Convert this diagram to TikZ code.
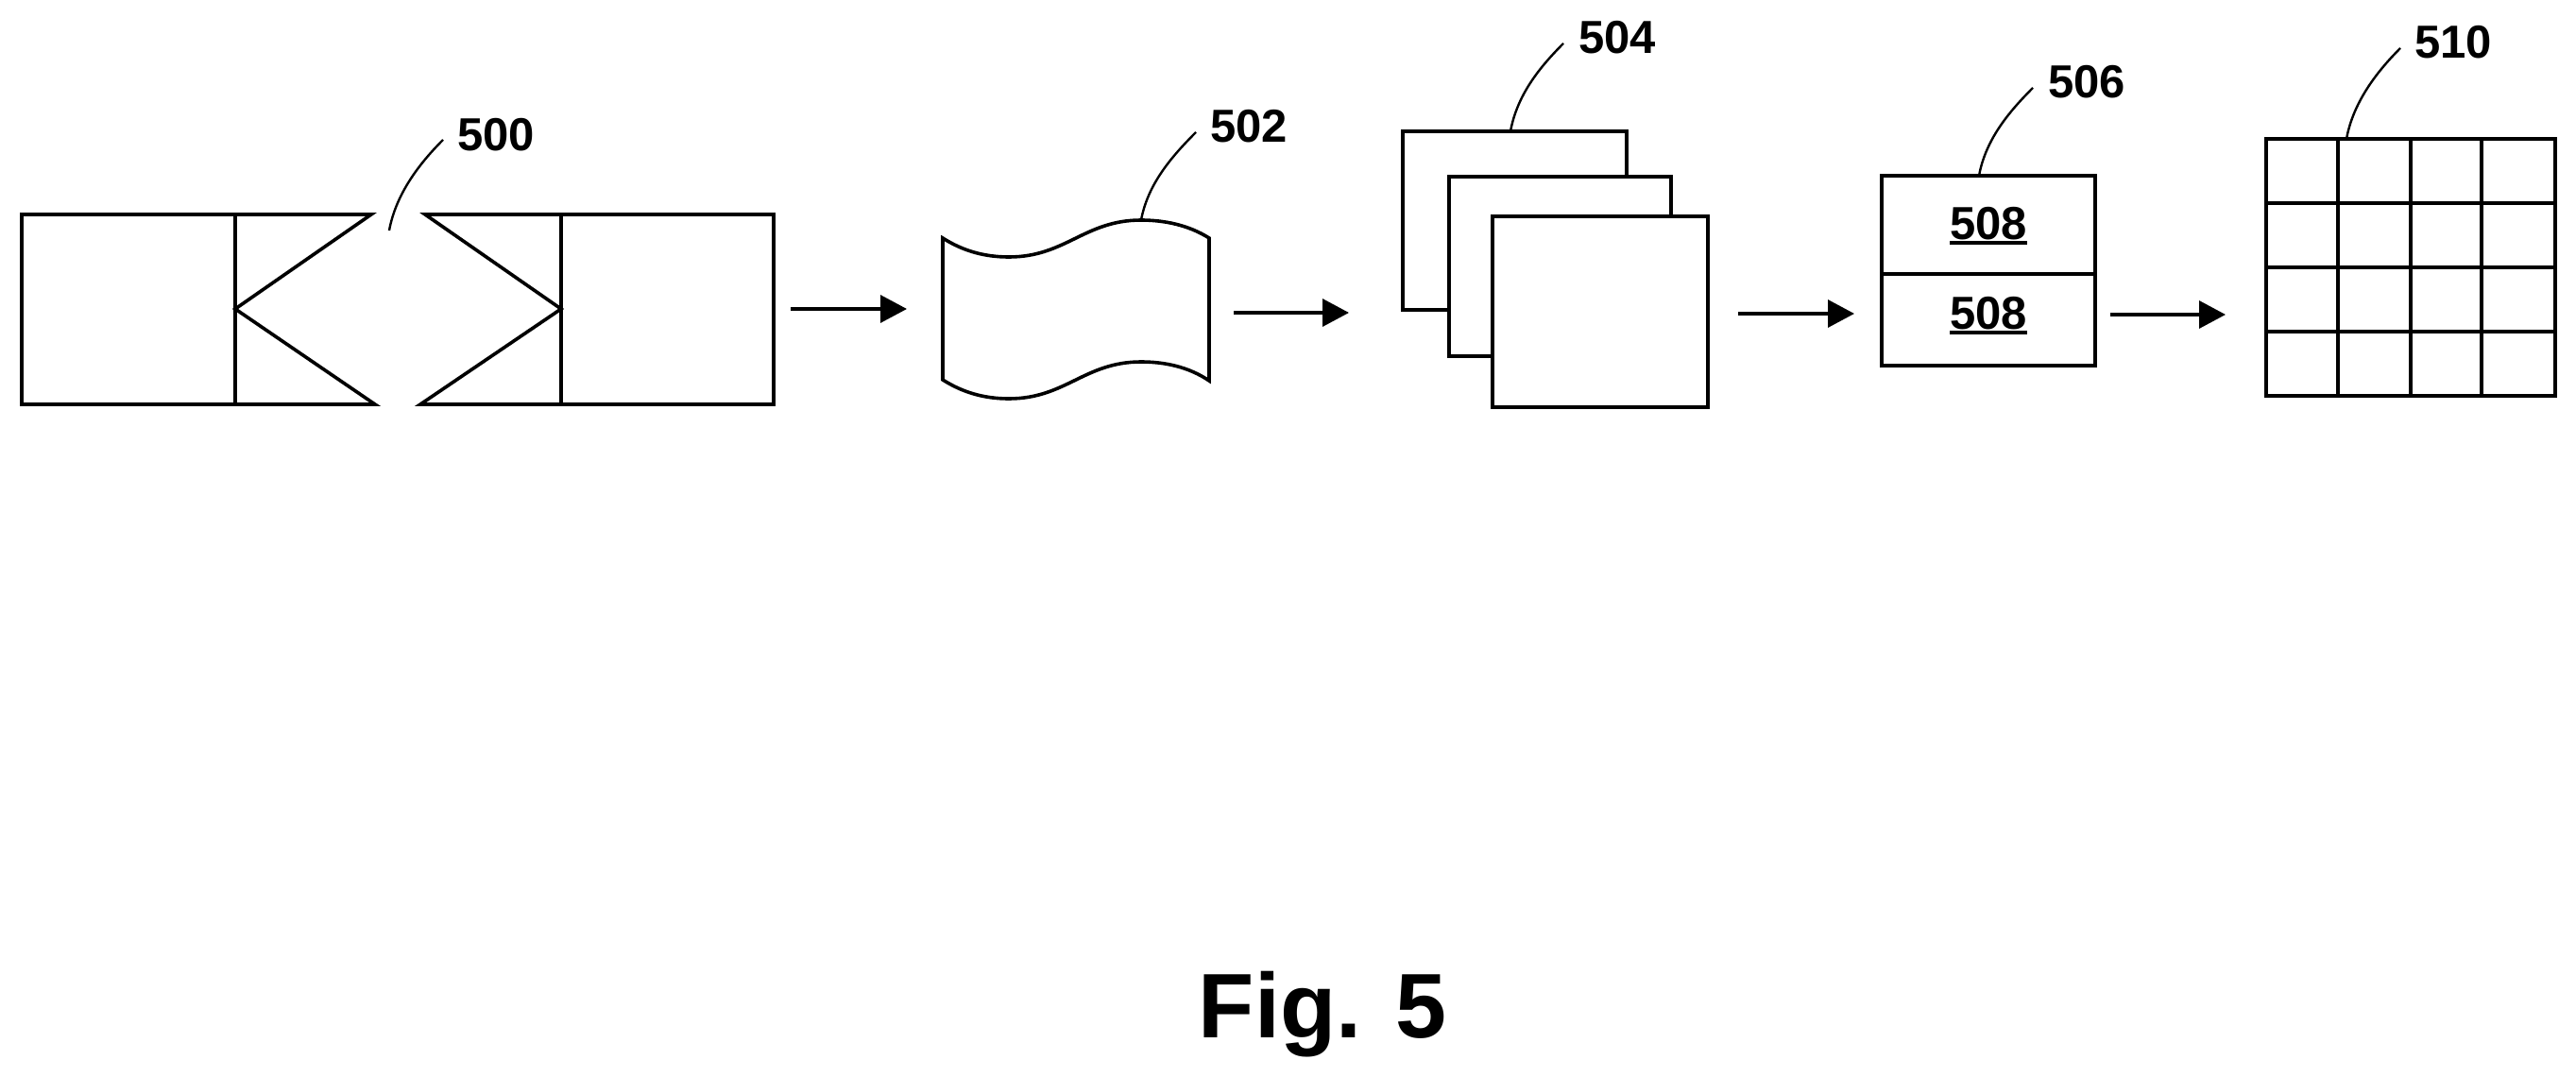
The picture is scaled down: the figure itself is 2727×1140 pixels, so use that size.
\documentclass[tikz,border=0pt]{standalone}
\usepackage{fontspec}
\setmainfont{Liberation Sans}
\usetikzlibrary{arrows.meta}
\tikzset{
  ln/.style={draw=black,line width=3.6pt,line join=miter},
  boxn/.style={ln,fill=white,inner sep=0pt,outer sep=0pt},
  flow/.style={draw=black,line width=3.4pt,-{Triangle[length=28pt,width=29pt]}},
  leader/.style={draw=black,line width=2.4pt},
  num/.style={inner sep=0pt,outer sep=0pt,font=\bfseries\fontsize{49}{58}\selectfont},
  ulin/.style={draw=black,line width=4pt},
  caption/.style={inner sep=0pt,outer sep=0pt,anchor=base,font=\bfseries\fontsize{97}{116}\selectfont}
}
% name, x1, y1, x2, y2
\newcommand{\pbox}[5]{%
  \pgfmathsetmacro{\pbw}{#4-#2}\pgfmathsetmacro{\pbh}{#5-#3}%
  \pgfmathsetmacro{\pbx}{(#2+#4)/2}\pgfmathsetmacro{\pby}{(#3+#5)/2}%
  \node[boxn,minimum width=\pbw pt,minimum height=\pbh pt] (#1) at (\pbx,\pby) {};}
\begin{document}
\begin{tikzpicture}[x=1pt,y=-1pt]
\useasboundingbox[fill=white] (0,0) rectangle (2727,1140);

% 500: two halves
\pbox{leftbox}{23}{227}{249}{428}
\pbox{rightbox}{594}{227}{819}{428}
\path[ln] (249,227) -- (393,227) -- (249,327) -- (397,428) -- (249,428);
\path[ln] (594,227) -- (450,227) -- (594,327) -- (445,428) -- (594,428);

% 502: wave sheet
\path[ln] (998,252)
  .. controls (1020,266) and (1043,272) .. (1068,272)
  .. controls (1128,272) and (1148,233) .. (1208,233)
  .. controls (1232,233) and (1258,238) .. (1280,252)
  -- (1280,403)
  .. controls (1258,388) and (1232,383) .. (1208,383)
  .. controls (1148,383) and (1128,422) .. (1068,422)
  .. controls (1043,422) and (1020,416) .. (998,402)
  -- cycle;
\coordinate (waveTop) at (1208,233);

% 504: stacked sheets
\pbox{sheetA}{1485}{139}{1722}{328}
\pbox{sheetB}{1534}{187}{1769}{377}
\pbox{sheetC}{1580}{229}{1808}{431}
\coordinate (sheetTop) at (1599,139);

% 506: two-part box
\pbox{partA}{1992}{186}{2218}{290}
\pbox{partB}{1992}{290}{2218}{387}
\coordinate (partTop) at (2095,186);
\node[num] (t508a) at (2105,237) {508};
\node[num] (t508b) at (2105,332) {508};
\draw[ulin] ([yshift=-3pt]t508a.south west) -- ([yshift=-3pt]t508a.south east);
\draw[ulin] ([yshift=-3pt]t508b.south west) -- ([yshift=-3pt]t508b.south east);

% 510: grid
\foreach \xa/\xb [count=\i] in {2399/2475,2475/2552,2552/2627,2627/2705}{
  \foreach \ya/\yb [count=\j] in {147/215,215/283,283/351,351/419}{
    \pbox{cell\i\j}{\xa}{\ya}{\xb}{\yb}
  }
}
\coordinate (gridTop) at (2484,147);

% Flow arrows
\coordinate (a1s) at (837,327);  \coordinate (a1e) at (960,327);
\coordinate (a2s) at (1306,331); \coordinate (a2e) at (1428,331);
\coordinate (a3s) at (1840,332); \coordinate (a3e) at (1963,332);
\coordinate (a4s) at (2234,333); \coordinate (a4e) at (2356,333);
\draw[flow] (a1s) -- (a1e);
\draw[flow] (a2s) -- (a2e);
\draw[flow] (a3s) -- (a3e);
\draw[flow] (a4s) -- (a4e);

% Reference numerals
\node[num] (t500) at (525,143) {500};
\node[num] (t502) at (1322,134) {502};
\node[num] (t504) at (1712,40) {504};
\node[num] (t506) at (2209,87) {506};
\node[num] (t510) at (2597,45) {510};

% Leaders
\coordinate (l500s) at (469,148); \coordinate (l500e) at (412,244);
\coordinate (l502s) at (1266,140);
\coordinate (l504s) at (1655,46);
\coordinate (l506s) at (2152,93);
\coordinate (l510s) at (2541,51);
\draw[leader] (l500s) .. controls +(-26,26) and +(7,-38) .. (l500e);
\draw[leader] (l502s) .. controls +(-26,26) and +(7,-38) .. (waveTop);
\draw[leader] (l504s) .. controls +(-26,26) and +(7,-38) .. (sheetTop);
\draw[leader] (l506s) .. controls +(-26,26) and +(7,-38) .. (partTop);
\draw[leader] (l510s) .. controls +(-26,26) and +(7,-38) .. (gridTop);

% Caption
\node[caption] (figcap) at (1400,1098) {Fig. 5};
\end{tikzpicture}
\end{document}
